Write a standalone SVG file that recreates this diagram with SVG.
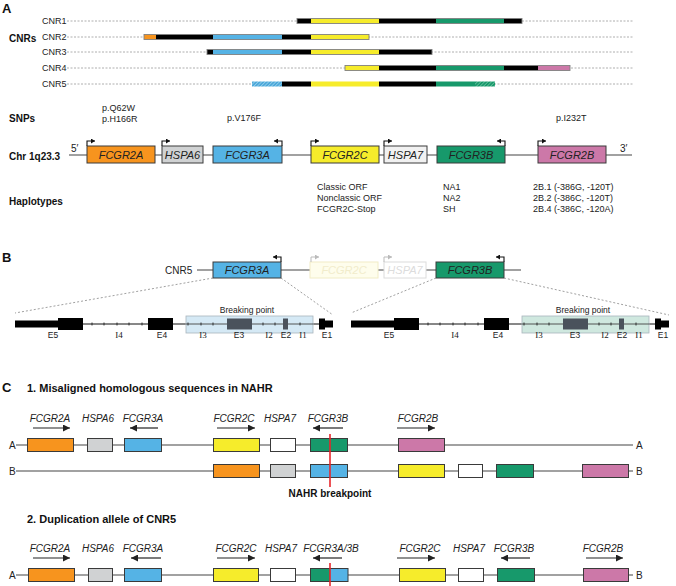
<svg xmlns="http://www.w3.org/2000/svg" width="676" height="586" viewBox="0 0 676 586">
<style>
text{font-family:"Liberation Sans",Arial,sans-serif;fill:#222}
.pl{font-size:13px;font-weight:bold;fill:#111}
.hd{font-size:10px;font-weight:bold;fill:#111}
.sm{font-size:9px}
.gi{font-size:11px;font-style:italic;text-anchor:middle}
.gc{font-size:10px;font-style:italic;text-anchor:middle}
.ex{font-size:8.5px;text-anchor:middle}
.in{font-size:9px;text-anchor:middle;font-family:"Liberation Serif","Times New Roman",serif}
.dash{stroke:#9a9a9a;stroke-width:0.8;stroke-dasharray:2 1.5;fill:none}
.zoom{stroke:#888;stroke-width:0.8;stroke-dasharray:2 2;fill:none}
.bx{stroke:#3a3a3a;stroke-width:1}
.out{fill:none;stroke:#808080;stroke-width:0.9}
.or{fill:#F7941E}.gy{fill:#D0D2D3}.bl{fill:#55B3E5}.ye{fill:#F6EC2B}.gr{fill:#17996B}.pk{fill:#CC78A8}.wh{fill:#fff}.lg{fill:#F1F1F1}.bk{fill:#000}
.ln{stroke:#444;stroke-width:1.2;fill:none}
.tss{stroke:#111;stroke-width:1.1;fill:none}
.arr{stroke:#222;stroke-width:1.2;fill:none;marker-end:url(#ah)}
.red{stroke:#E8262B;stroke-width:1.6}
.tick{stroke:#111;stroke-width:0.8}
</style>
<defs>
<marker id="ah" markerUnits="userSpaceOnUse" markerWidth="8" markerHeight="7" refX="7" refY="3.5" orient="auto"><path d="M0,0 L7,3.5 L0,7 z" fill="#222"/></marker>
<marker id="sh" markerUnits="userSpaceOnUse" markerWidth="5" markerHeight="5" refX="4" refY="2.5" orient="auto"><path d="M0,0 L4,2.5 L0,5 z" fill="#111"/></marker>
<marker id="shf" markerUnits="userSpaceOnUse" markerWidth="5" markerHeight="5" refX="4" refY="2.5" orient="auto"><path d="M0,0 L4,2.5 L0,5 z" fill="#bbb"/></marker>
<pattern id="hb" width="2.5" height="2.5" patternUnits="userSpaceOnUse" patternTransform="rotate(45)"><rect width="2.5" height="2.5" fill="#4AA8DA"/><line x1="0" y1="0" x2="0" y2="2.5" stroke="#cfe9f7" stroke-width="0.9"/></pattern>
<pattern id="hg" width="2.5" height="2.5" patternUnits="userSpaceOnUse" patternTransform="rotate(45)"><rect width="2.5" height="2.5" fill="#17996B"/><line x1="0" y1="0" x2="0" y2="2.5" stroke="#9fd8c0" stroke-width="0.9"/></pattern>
</defs>

<!-- Panel A -->
<text class="pl" x="2" y="13">A</text>
<text class="hd" x="9" y="42">CNRs</text>

<g id="cnr1">
<text class="sm" x="42" y="24">CNR1</text>
<line class="dash" x1="67" y1="21" x2="633" y2="21"/>
<rect class="bk" x="297" y="18.5" width="14" height="5"/>
<rect class="ye" x="311" y="18.5" width="68" height="5"/>
<rect class="bk" x="379" y="18.5" width="57" height="5"/>
<rect class="gr" x="436" y="18.5" width="68" height="5"/>
<rect class="bk" x="504" y="18.5" width="18" height="5"/>
<rect class="out" x="297" y="18.5" width="225" height="5"/>
</g>
<g id="cnr2">
<text class="sm" x="42" y="40">CNR2</text>
<line class="dash" x1="67" y1="37" x2="633" y2="37"/>
<rect class="or" x="144" y="34.5" width="12" height="5"/>
<rect class="bk" x="156" y="34.5" width="57" height="5"/>
<rect class="bl" x="213" y="34.5" width="69" height="5"/>
<rect class="bk" x="282" y="34.5" width="29" height="5"/>
<rect class="ye" x="311" y="34.5" width="58" height="5"/>
<rect class="out" x="144" y="34.5" width="225" height="5"/>
</g>
<g id="cnr3">
<text class="sm" x="42" y="55">CNR3</text>
<line class="dash" x1="67" y1="52" x2="633" y2="52"/>
<rect class="bk" x="207" y="49.5" width="6" height="5"/>
<rect class="bl" x="213" y="49.5" width="69" height="5"/>
<rect class="bk" x="282" y="49.5" width="29" height="5"/>
<rect class="ye" x="311" y="49.5" width="68" height="5"/>
<rect class="bk" x="379" y="49.5" width="53" height="5"/>
<rect class="out" x="207" y="49.5" width="225" height="5"/>
</g>
<g id="cnr4">
<text class="sm" x="42" y="71">CNR4</text>
<line class="dash" x1="67" y1="68" x2="633" y2="68"/>
<rect class="ye" x="345" y="65.5" width="34" height="5"/>
<rect class="bk" x="379" y="65.5" width="57" height="5"/>
<rect class="gr" x="436" y="65.5" width="68" height="5"/>
<rect class="bk" x="504" y="65.5" width="34" height="5"/>
<rect class="pk" x="538" y="65.5" width="32" height="5"/>
<rect class="out" x="345" y="65.5" width="225" height="5"/>
</g>
<g id="cnr5">
<text class="sm" x="42" y="87">CNR5</text>
<line class="dash" x1="67" y1="84" x2="633" y2="84"/>
<rect fill="url(#hb)" x="252" y="81.5" width="30" height="5"/>
<rect class="bk" x="282" y="81.5" width="29" height="5"/>
<rect class="ye" x="311" y="81.5" width="68" height="5"/>
<rect class="bk" x="379" y="81.5" width="57" height="5"/>
<rect class="gr" x="436" y="81.5" width="39" height="5"/>
<rect fill="url(#hg)" x="475" y="81.5" width="20" height="5"/>
</g>

<g id="snps">
<text class="hd" x="9" y="122">SNPs</text>
<text class="sm" x="102" y="111">p.Q62W</text>
<text class="sm" x="102" y="122">p.H166R</text>
<text class="sm" x="227" y="121">p.V176F</text>
<text class="sm" x="556" y="121">p.I232T</text>
</g>

<g id="chr">
<text class="hd" x="9" y="160">Chr 1q23.3</text>
<text x="71" y="152" font-size="10">5′</text>
<text x="620" y="152" font-size="10">3′</text>
<line class="ln" x1="69" y1="155" x2="632" y2="155"/>
</g>
<g id="a-FCGR2A"><rect class="bx or" x="87" y="146" width="68" height="17"/><text class="gi" x="121" y="159">FCGR2A</text><path class="tss" d="M87,146 V141 H95" marker-end="url(#sh)"/></g>
<g id="a-HSPA6"><rect class="bx gy" x="162" y="146" width="41" height="17"/><text class="gi" x="182.5" y="159">HSPA6</text><path class="tss" d="M162,146 V141 H170" marker-end="url(#sh)"/></g>
<g id="a-FCGR3A"><rect class="bx bl" x="213" y="146" width="69" height="17"/><text class="gi" x="247.5" y="159">FCGR3A</text><path class="tss" d="M282,146 V141 H274" marker-end="url(#sh)"/></g>
<g id="a-FCGR2C"><rect class="bx ye" x="311" y="146" width="68" height="17"/><text class="gi" x="345" y="159">FCGR2C</text><path class="tss" d="M311,146 V141 H319" marker-end="url(#sh)"/></g>
<g id="a-HSPA7"><rect class="bx lg" x="384" y="146" width="43" height="17"/><text class="gi" x="405.5" y="159">HSPA7</text><path class="tss" d="M384,146 V141 H392" marker-end="url(#sh)"/></g>
<g id="a-FCGR3B"><rect class="bx gr" x="437" y="146" width="68" height="17"/><text class="gi" x="471" y="159">FCGR3B</text><path class="tss" d="M505,146 V141 H497" marker-end="url(#sh)"/></g>
<g id="a-FCGR2B"><rect class="bx pk" x="538" y="146" width="68" height="17"/><text class="gi" x="572" y="159">FCGR2B</text><path class="tss" d="M538,146 V141 H546" marker-end="url(#sh)"/></g>

<g id="haplotypes">
<text class="hd" x="9" y="205">Haplotypes</text>
<text class="sm" x="317" y="190">Classic ORF</text>
<text class="sm" x="317" y="201">Nonclassic ORF</text>
<text class="sm" x="317" y="212">FCGR2C-Stop</text>
<text class="sm" x="443" y="190">NA1</text>
<text class="sm" x="443" y="201">NA2</text>
<text class="sm" x="443" y="212">SH</text>
<text class="sm" x="533" y="190">2B.1 (-386G, -120T)</text>
<text class="sm" x="533" y="201">2B.2 (-386C, -120T)</text>
<text class="sm" x="533" y="212">2B.4 (-386C, -120A)</text>
</g>

<!-- Panel B -->
<text class="pl" x="2" y="262">B</text>
<g id="b-cnr5">
<text x="165" y="274" font-size="10">CNR5</text>
<line class="ln" x1="197" y1="270" x2="521" y2="270"/>
</g>
<g id="b-FCGR3A"><rect class="bx bl" x="213" y="262" width="68" height="16"/><text class="gi" x="247" y="274">FCGR3A</text><path class="tss" d="M281,262 V257 H273" marker-end="url(#sh)"/></g>
<g id="b-FCGR2C"><rect x="310" y="262" width="68" height="16" fill="#FEFDEC" stroke="#F1ECC6"/><text class="gi" x="344" y="274" style="fill:#F1ECCB">FCGR2C</text><path d="M311,262 V257 H319" stroke="#bbb" stroke-width="1" fill="none" marker-end="url(#shf)"/></g>
<g id="b-HSPA7"><rect x="384" y="262" width="42" height="16" fill="#fff" stroke="#dcdcdc"/><text class="gi" x="405" y="274" style="fill:#dcdcdc">HSPA7</text><path d="M384,262 V257 H392" stroke="#bbb" stroke-width="1" fill="none" marker-end="url(#shf)"/></g>
<g id="b-FCGR3B"><rect class="bx gr" x="436" y="262" width="68" height="16"/><text class="gi" x="470" y="274">FCGR3B</text><path class="tss" d="M504,262 V257 H496" marker-end="url(#sh)"/></g>

<g id="zoomlines">
<line class="zoom" x1="213" y1="278" x2="15" y2="313"/>
<line class="zoom" x1="281" y1="278" x2="333" y2="315"/>
<line class="zoom" x1="436" y1="278" x2="351" y2="313"/>
<line class="zoom" x1="504" y1="278" x2="669" y2="315"/>
</g>

<g id="struct-3A">
<line x1="15" y1="324" x2="333" y2="324" stroke="#111" stroke-width="1"/>
<rect x="186" y="316" width="127" height="17" fill="#D5E9F5" stroke="#A9B4BC" stroke-width="0.8"/>
<line x1="186" y1="324" x2="313" y2="324" stroke="#444" stroke-width="0.9"/>
<rect class="bk" x="15" y="320.5" width="43" height="7"/>
<rect class="bk" x="58" y="318" width="25" height="12"/>
<rect class="bk" x="148" y="318" width="25" height="12"/>
<rect x="227" y="318.5" width="25" height="11" fill="#4A525C"/>
<rect x="283" y="318.5" width="5" height="11" fill="#4A525C"/>
<rect class="bk" x="319" y="318.5" width="6" height="11"/>
<rect class="bk" x="325" y="320.5" width="8" height="7"/>
<g class="tick"><line x1="92" y1="322.5" x2="92" y2="325.5"/><line x1="104" y1="322.5" x2="104" y2="325.5"/><line x1="117" y1="322.5" x2="117" y2="325.5"/><line x1="129" y1="322.5" x2="129" y2="325.5"/><line x1="142" y1="322.5" x2="142" y2="325.5"/><line x1="188" y1="322.5" x2="188" y2="325.5"/><line x1="201" y1="322.5" x2="201" y2="325.5"/><line x1="213" y1="322.5" x2="213" y2="325.5"/><line x1="263" y1="322.5" x2="263" y2="325.5"/><line x1="275" y1="322.5" x2="275" y2="325.5"/><line x1="300" y1="322.5" x2="300" y2="325.5"/></g>
<text class="ex" x="247" y="313">Breaking point</text>
<text class="ex" x="53" y="338">E5</text><text class="in" x="119" y="338">I4</text><text class="ex" x="162" y="338">E4</text><text class="in" x="203" y="338">I3</text><text class="ex" x="239" y="338">E3</text><text class="in" x="269" y="338">I2</text><text class="ex" x="286" y="338">E2</text><text class="in" x="303" y="338">I1</text><text class="ex" x="327" y="338">E1</text>
</g>

<g id="struct-3B" transform="translate(336,0)">
<line x1="15" y1="324" x2="333" y2="324" stroke="#111" stroke-width="1"/>
<rect x="186" y="316" width="127" height="17" fill="#CFE8DF" stroke="#A9B4BC" stroke-width="0.8"/>
<line x1="186" y1="324" x2="313" y2="324" stroke="#444" stroke-width="0.9"/>
<rect class="bk" x="15" y="320.5" width="43" height="7"/>
<rect class="bk" x="58" y="318" width="25" height="12"/>
<rect class="bk" x="148" y="318" width="25" height="12"/>
<rect x="227" y="318.5" width="25" height="11" fill="#4A525C"/>
<rect x="283" y="318.5" width="5" height="11" fill="#4A525C"/>
<rect class="bk" x="319" y="318.5" width="6" height="11"/>
<rect class="bk" x="325" y="320.5" width="8" height="7"/>
<g class="tick"><line x1="92" y1="322.5" x2="92" y2="325.5"/><line x1="104" y1="322.5" x2="104" y2="325.5"/><line x1="117" y1="322.5" x2="117" y2="325.5"/><line x1="129" y1="322.5" x2="129" y2="325.5"/><line x1="142" y1="322.5" x2="142" y2="325.5"/><line x1="188" y1="322.5" x2="188" y2="325.5"/><line x1="201" y1="322.5" x2="201" y2="325.5"/><line x1="213" y1="322.5" x2="213" y2="325.5"/><line x1="263" y1="322.5" x2="263" y2="325.5"/><line x1="275" y1="322.5" x2="275" y2="325.5"/><line x1="300" y1="322.5" x2="300" y2="325.5"/></g>
<text class="ex" x="247" y="313">Breaking point</text>
<text class="ex" x="53" y="338">E5</text><text class="in" x="119" y="338">I4</text><text class="ex" x="162" y="338">E4</text><text class="in" x="203" y="338">I3</text><text class="ex" x="239" y="338">E3</text><text class="in" x="269" y="338">I2</text><text class="ex" x="286" y="338">E2</text><text class="in" x="303" y="338">I1</text><text class="ex" x="327" y="338">E1</text>
</g>

<!-- Panel C -->
<text class="pl" x="2" y="392">C</text>
<text x="27" y="392" font-size="11" font-weight="bold" style="fill:#111">1. Misaligned homologous sequences in NAHR</text>

<g id="connectors">
<line class="ln" x1="16" y1="445" x2="633" y2="445"/>
<line class="ln" x1="16" y1="471" x2="633" y2="471"/>
<line class="ln" x1="16" y1="575" x2="633" y2="575"/>
<line class="arr" x1="33" y1="428" x2="70" y2="428"/>
<line class="arr" x1="158" y1="428" x2="130" y2="428"/>
<line class="arr" x1="217" y1="428" x2="255" y2="428"/>
<line class="arr" x1="343" y1="428" x2="313" y2="428"/>
<line class="arr" x1="397" y1="428" x2="435" y2="428"/>
<line class="arr" x1="33" y1="558" x2="70" y2="558"/>
<line class="arr" x1="161" y1="558" x2="131" y2="558"/>
<line class="arr" x1="217" y1="558" x2="255" y2="558"/>
<line class="arr" x1="342" y1="558" x2="313" y2="558"/>
<line class="arr" x1="397" y1="558" x2="435" y2="558"/>
<line class="arr" x1="530" y1="558" x2="501" y2="558"/>
<line class="arr" x1="586" y1="558" x2="623" y2="558"/>
</g>

<g id="c1-labels">
<text x="9" y="449" font-size="10">A</text><text x="636" y="449" font-size="10">A</text>
<text x="9" y="475" font-size="10">B</text><text x="636" y="475" font-size="10">B</text>
<text class="gc" x="50" y="422">FCGR2A</text>
<text class="gc" x="98" y="422">HSPA6</text>
<text class="gc" x="143" y="422">FCGR3A</text>
<text class="gc" x="234" y="422">FCGR2C</text>
<text class="gc" x="280" y="422">HSPA7</text>
<text class="gc" x="328" y="422">FCGR3B</text>
<text class="gc" x="418" y="422">FCGR2B</text>
</g>
<g id="c1-rowA">
<rect class="bx or" x="27.5" y="438.5" width="46" height="13"/>
<rect class="bx gy" x="87.5" y="438.5" width="25" height="13"/>
<rect class="bx bl" x="124.5" y="438.5" width="37" height="13"/>
<rect class="bx ye" x="213.5" y="438.5" width="46" height="13"/>
<rect class="bx wh" x="270.5" y="438.5" width="25" height="13"/>
<rect class="bx gr" x="310.5" y="438.5" width="37" height="13"/>
<rect class="bx pk" x="398.5" y="438.5" width="46" height="13"/>
</g>
<g id="c1-rowB">
<rect class="bx or" x="213.5" y="464.5" width="46" height="13"/>
<rect class="bx gy" x="270.5" y="464.5" width="25" height="13"/>
<rect class="bx bl" x="310.5" y="464.5" width="37" height="13"/>
<rect class="bx ye" x="398.5" y="464.5" width="46" height="13"/>
<rect class="bx wh" x="458.5" y="464.5" width="24" height="13"/>
<rect class="bx gr" x="496.5" y="464.5" width="37" height="13"/>
<rect class="bx pk" x="582.5" y="464.5" width="46" height="13"/>
</g>
<g id="nahr-breakpoint">
<line class="red" x1="330" y1="434" x2="330" y2="487"/>
<text x="330" y="497" font-size="10" font-weight="bold" text-anchor="middle" style="fill:#111">NAHR breakpoint</text>
</g>

<text x="27" y="523" font-size="11" font-weight="bold" style="fill:#111">2. Duplication allele of CNR5</text>
<g id="c2-labels">
<text x="9" y="579" font-size="10">A</text><text x="636" y="579" font-size="10">B</text>
<text class="gc" x="50" y="552">FCGR2A</text>
<text class="gc" x="98" y="552">HSPA6</text>
<text class="gc" x="143" y="552">FCGR3A</text>
<text class="gc" x="236" y="552">FCGR2C</text>
<text class="gc" x="281" y="552">HSPA7</text>
<text class="gc" x="331" y="552">FCGR3A/3B</text>
<text class="gc" x="420" y="552">FCGR2C</text>
<text class="gc" x="469" y="552">HSPA7</text>
<text class="gc" x="514" y="552">FCGR3B</text>
<text class="gc" x="603" y="552">FCGR2B</text>
</g>
<g id="c2-row">
<rect class="bx or" x="28.5" y="568.5" width="46" height="13"/>
<rect class="bx gy" x="88.5" y="568.5" width="24" height="13"/>
<rect class="bx bl" x="124.5" y="568.5" width="37" height="13"/>
<rect class="bx ye" x="213.5" y="568.5" width="45" height="13"/>
<rect class="bx wh" x="270.5" y="568.5" width="25" height="13"/>
<rect class="gr" x="310.5" y="568.5" width="19.5" height="13"/>
<rect class="bl" x="330" y="568.5" width="18" height="13"/>
<rect class="bx" fill="none" x="310.5" y="568.5" width="37.5" height="13"/>
<rect class="bx ye" x="399.5" y="568.5" width="46" height="13"/>
<rect class="bx wh" x="458.5" y="568.5" width="25" height="13"/>
<rect class="bx gr" x="497.5" y="568.5" width="37" height="13"/>
<rect class="bx pk" x="583.5" y="568.5" width="45" height="13"/>
<line class="red" x1="330" y1="563" x2="330" y2="586"/>
</g>
</svg>
